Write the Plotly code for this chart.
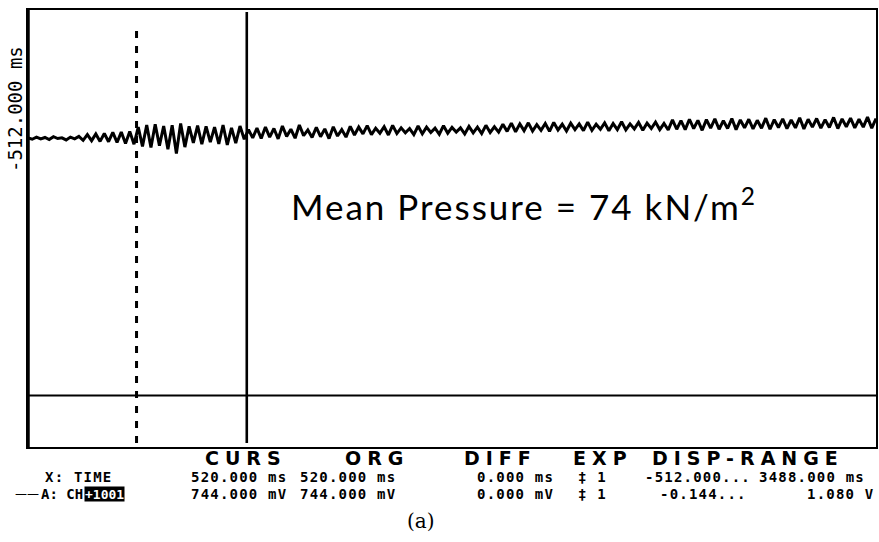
import plotly.graph_objects as go

# ---- data ----
time_range_ms = [-512.0, 3488.0]          # DISP-RANGE X
volt_range_v = [-0.144, 1.080]            # DISP-RANGE A
cursor_times_ms = [0.0, 520.0]            # trigger (dashed) and cursor (solid)
zero_level_v = 0.0

# channel A trace, mV, equally spaced samples across the display range
trace_mv = [
    722, 718, 724, 719, 723, 717, 725, 720, 722, 716, 724, 719, 726,
    715, 731, 714, 733, 712, 734, 711, 737, 709, 738, 706, 740, 704,
    752, 698, 758, 695, 760, 700, 755, 690, 757, 678, 762, 696, 754,
    708, 756, 704, 754, 710, 752, 705, 758, 702, 750, 707, 755, 718,
    745, 722, 749, 720, 752, 724, 748, 719, 755, 726, 746, 721, 758, 728,
    744, 723, 751, 725, 747, 720, 753, 727, 745, 724,
    754, 730, 752, 733, 756, 731, 749, 735, 753, 730, 757, 734, 750, 736,
    748, 731, 755, 733, 752, 737, 749, 732, 756, 735, 751, 738, 750, 733,
    754, 736, 752, 734, 757, 737, 753,
    738, 760, 740, 763, 739, 761, 742, 764, 741, 759, 743, 762, 740, 765,
    744, 760, 741, 763, 745, 761, 742, 766, 743, 760, 746, 764, 742, 762,
    745, 767, 744, 761, 747, 765, 743, 763, 748, 766, 745, 762,
    744, 772, 746, 770, 745, 774, 748, 771, 743, 773, 749, 775, 746, 770,
    748, 776, 745, 772, 750, 774, 747, 771, 749, 777, 746, 773, 751, 775,
    748, 772, 750, 778, 747, 774, 752, 776, 749, 773, 751, 779, 748, 775,
    753, 777, 750, 774, 752, 780, 749, 776,
]

annotation_text = "Mean Pressure = 74 kN/m<sup>2</sup>"
y_label = "-512.000 ms"
headers = ["CURS", "ORG", "DIFF", "EXP", "DISP-RANGE"]
row_x = ["X: TIME", "520.000 ms", "520.000 ms", "0.000 ms", "\u2021 1", "-512.000...", "3488.000 ms"]
row_a = ["A: CH", "+1001", "744.000 mV", "744.000 mV", "0.000 mV", "\u2021 1", "-0.144...", "1.080 V"]
legend_dash = "\u2014\u2014"
caption = "(a)"

# ---- derived sample grid ----
n = len(trace_mv)
t = [time_range_ms[0] + (time_range_ms[1] - time_range_ms[0]) * i / (n - 1) for i in range(n)]
v = [m / 1000.0 for m in trace_mv]

W, H = 879, 542
L, R, T, B = 28, 1, 10, 95
PW, PH = W - L - R, H - T - B


def px(xp):
    return (xp - L) / PW


def py(yp):
    return (H - B - yp) / PH


fig = go.Figure()
fig.add_trace(go.Scatter(x=t, y=v, mode="lines",
                         line=dict(color="black", width=3), hoverinfo="skip"))

# zero line
fig.add_trace(go.Scatter(x=time_range_ms, y=[zero_level_v, zero_level_v], mode="lines",
                         line=dict(color="black", width=2), hoverinfo="skip"))

shapes = []
# dashed trigger cursor
shapes.append(dict(type="line", xref="x", yref="paper", x0=cursor_times_ms[0], x1=cursor_times_ms[0],
                   y0=py(443), y1=py(23), line=dict(color="black", width=3, dash="7px,8px")))
# solid cursor
shapes.append(dict(type="line", xref="x", yref="paper", x0=cursor_times_ms[1], x1=cursor_times_ms[1],
                   y0=py(443), y1=py(12), line=dict(color="black", width=2.6)))
# thick left border
shapes.append(dict(type="line", xref="paper", yref="paper", x0=0, x1=0, y0=0, y1=1,
                   line=dict(color="black", width=3.5)))

mono = "DejaVu Sans Mono"
ann = []
ann.append(dict(text='<span style="letter-spacing:2px">' + annotation_text + '</span>',
                x=px(290), y=py(204), xanchor="left", yanchor="middle",
                font=dict(family="Lato", size=35, color="black")))
ann.append(dict(text=y_label, x=px(15), y=py(109), xanchor="center", yanchor="middle", textangle=-90,
                font=dict(family=mono, size=19, color="black")))

hdr_x = [247, 378, 502, 604, 750]
for h, xc in zip(headers, hdr_x):
    ann.append(dict(text='<span style="letter-spacing:6px"><b>' + h + '</b></span>', x=px(xc), y=py(458),
                    xanchor="center", yanchor="middle", height=16, valign="middle", borderpad=0,
                    font=dict(family="DejaVu Sans", size=19, color="black")))

rx_left = [44, 190, 300, 477, 578, 645, 760]
for s, xl in zip(row_x, rx_left):
    ann.append(dict(text='<span style="letter-spacing:1.2px"><b>' + s + '</b></span>', x=px(xl), y=py(477),
                    xanchor="left", yanchor="middle", height=14, valign="middle", borderpad=0,
                    font=dict(family=mono, size=14, color="black")))

# legend dash before channel A label
ann.append(dict(text=legend_dash, x=px(14), y=py(494), xanchor="left", yanchor="middle",
                height=14, valign="middle", borderpad=0,
                font=dict(family="DejaVu Sans", size=12, color="black")))

ra_left = [40, 84, 190, 300, 477, 578, 660, 808]
for i, (s, xl) in enumerate(zip(row_a, ra_left)):
    if i == 0:
        ann.append(dict(text="<b>" + s + "</b>", x=px(xl), y=py(494), xanchor="left", yanchor="middle",
                        height=14, valign="middle", borderpad=0,
                        font=dict(family=mono, size=14, color="black")))
    elif i == 1:
        ann.append(dict(text="<b>" + s + "</b>", x=px(xl), y=py(494), xanchor="left", yanchor="middle",
                        bgcolor="black", borderpad=0, height=14, valign="middle",
                        font=dict(family=mono, size=13, color="white")))
    else:
        ann.append(dict(text='<span style="letter-spacing:1.2px"><b>' + s + '</b></span>', x=px(xl), y=py(494),
                        xanchor="left", yanchor="middle", height=14, valign="middle", borderpad=0,
                        font=dict(family=mono, size=14, color="black")))

ann.append(dict(text=caption, x=px(422), y=py(521), xanchor="center", yanchor="middle",
                font=dict(family="DejaVu Serif", size=20, color="black")))

for a in ann:
    a.update(xref="paper", yref="paper", showarrow=False)

fig.update_layout(
    width=W, height=H, margin=dict(l=L, r=R, t=T, b=B),
    paper_bgcolor="white", plot_bgcolor="white", showlegend=False,
    xaxis=dict(range=time_range_ms, showgrid=False, zeroline=False, showticklabels=False,
               ticks="", showline=True, mirror=True, linecolor="black", linewidth=2),
    yaxis=dict(range=volt_range_v, showgrid=False, zeroline=False, showticklabels=False,
               ticks="", showline=True, mirror=True, linecolor="black", linewidth=2),
    shapes=shapes, annotations=ann,
)

fig.write_html("out.html", config={"displayModeBar": False},
               post_script="document.body.style.margin='0';document.body.style.overflow='hidden';")
